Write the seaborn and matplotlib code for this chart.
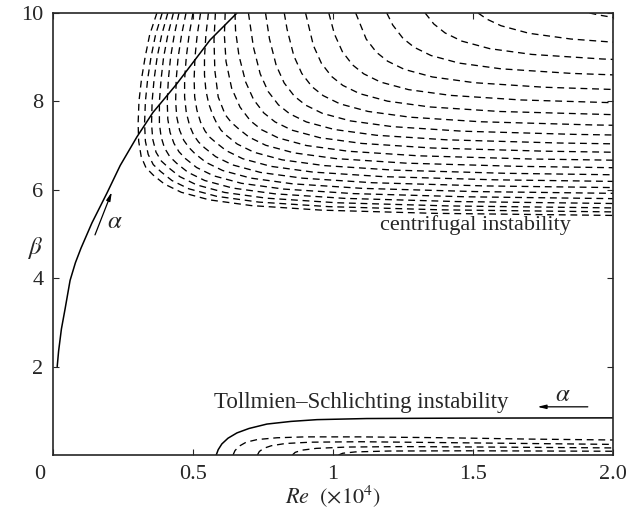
import matplotlib
matplotlib.use("Agg")
import matplotlib.pyplot as plt
import matplotlib.transforms as mtransforms
import seaborn as sns

# centrifugal instability: dashed family, outer curve first
CF_X = [
    [0.371, 0.345, 0.329, 0.316, 0.307, 0.304, 0.306, 0.315, 0.332, 0.358, 0.398, 0.458, 0.558, 0.708, 0.958, 1.358, 2.0],
    [0.39, 0.366, 0.35, 0.338, 0.33, 0.327, 0.33, 0.34, 0.358, 0.385, 0.425, 0.485, 0.585, 0.735, 0.985, 1.385, 2.0],
    [0.41, 0.388, 0.372, 0.361, 0.354, 0.352, 0.356, 0.368, 0.387, 0.413, 0.453, 0.513, 0.613, 0.763, 1.013, 1.413, 2.0],
    [0.43, 0.41, 0.395, 0.386, 0.38, 0.38, 0.386, 0.398, 0.417, 0.442, 0.482, 0.542, 0.642, 0.792, 1.042, 1.442, 2.0],
    [0.45, 0.433, 0.42, 0.412, 0.408, 0.41, 0.418, 0.432, 0.45, 0.473, 0.513, 0.573, 0.673, 0.823, 1.073, 1.473, 2.0],
    [0.475, 0.459, 0.447, 0.44, 0.438, 0.442, 0.452, 0.467, 0.485, 0.506, 0.546, 0.606, 0.706, 0.856, 1.106, 1.506, 2.0],
    [0.50, 0.486, 0.476, 0.47, 0.47, 0.476, 0.488, 0.503, 0.52, 0.541, 0.581, 0.641, 0.741, 0.891, 1.141, 1.541, 2.0],
    [0.527, 0.515, 0.507, 0.504, 0.506, 0.514, 0.527, 0.543, 0.558, 0.578, 0.618, 0.678, 0.778, 0.928, 1.178, 1.578, 2.0],
    [0.555, 0.546, 0.541, 0.541, 0.546, 0.556, 0.57, 0.585, 0.6, 0.618, 0.658, 0.718, 0.818, 0.968, 1.218, 1.618, 2.0],
    [0.58, 0.575, 0.578, 0.59, 0.615, 0.636, 0.66, 0.70, 0.76, 0.86, 1.01, 1.26, 1.66, 2.0],
    [0.615, 0.612, 0.618, 0.638, 0.668, 0.705, 0.745, 0.805, 0.905, 1.055, 1.305, 1.705, 2.0],
    [0.65, 0.652, 0.664, 0.688, 0.7165, 0.753, 0.793, 0.853, 0.953, 1.103, 1.353, 1.753, 2.0],
    [0.698, 0.716, 0.74, 0.7685, 0.805, 0.845, 0.905, 1.005, 1.155, 1.405, 1.805, 2.0],
    [0.759, 0.773, 0.797, 0.8255, 0.862, 0.902, 0.962, 1.062, 1.212, 1.462, 1.862, 2.0],
    [0.826, 0.836, 0.86, 0.8885, 0.925, 0.965, 1.025, 1.125, 1.275, 1.525, 1.925, 2.0],
    [0.902, 0.93, 0.9585, 0.995, 1.035, 1.095, 1.195, 1.345, 1.595, 2.0],
    [0.985, 1.005, 1.0335, 1.07, 1.11, 1.17, 1.27, 1.42, 1.67, 2.0],
    [1.081, 1.1185, 1.155, 1.195, 1.255, 1.355, 1.505, 1.755, 2.0],
    [1.192, 1.2135, 1.25, 1.29, 1.35, 1.45, 1.60, 1.85, 2.0],
    [1.329, 1.36, 1.40, 1.46, 1.56, 1.71, 1.96, 2.0],
    [1.518, 1.55, 1.6, 1.7, 1.85, 2.0],
    [1.916, 1.95, 2.0],
]
CF_BETA = [
    [10, 9.5, 9.0, 8.5, 8.0, 7.5, 7.1, 6.75, 6.5, 6.332, 6.130, 5.944, 5.773, 5.643, 5.540, 5.468, 5.42],
    [10, 9.5, 9.0, 8.5, 8.0, 7.5, 7.1, 6.8, 6.57, 6.411, 6.209, 6.023, 5.852, 5.722, 5.619, 5.547, 5.50],
    [10, 9.5, 9.0, 8.5, 8.0, 7.5, 7.15, 6.85, 6.65, 6.499, 6.297, 6.111, 5.94, 5.81, 5.707, 5.635, 5.59],
    [10, 9.5, 9.0, 8.5, 8.0, 7.5, 7.2, 6.95, 6.75, 6.598, 6.396, 6.21, 6.039, 5.909, 5.806, 5.734, 5.69],
    [10, 9.5, 9.0, 8.5, 8.0, 7.6, 7.3, 7.05, 6.86, 6.706, 6.504, 6.318, 6.147, 6.017, 5.914, 5.842, 5.80],
    [10, 9.5, 9.0, 8.5, 8.0, 7.65, 7.35, 7.12, 6.96, 6.824, 6.622, 6.436, 6.265, 6.135, 6.032, 5.96, 5.92],
    [10, 9.5, 9.0, 8.5, 8.1, 7.75, 7.45, 7.23, 7.08, 6.952, 6.75, 6.564, 6.393, 6.263, 6.16, 6.088, 6.05],
    [10, 9.5, 9.0, 8.5, 8.1, 7.8, 7.53, 7.33, 7.2, 7.09, 6.888, 6.702, 6.531, 6.401, 6.298, 6.226, 6.19],
    [10, 9.5, 9.0, 8.6, 8.25, 7.95, 7.7, 7.5, 7.35, 7.237, 7.035, 6.849, 6.678, 6.548, 6.445, 6.373, 6.34],
    [10, 9.4, 8.7, 8.1, 7.7, 7.53, 7.395, 7.193, 7.007, 6.836, 6.706, 6.603, 6.531, 6.50],
    [10, 9.5, 8.9, 8.3, 7.87, 7.561, 7.359, 7.173, 7.002, 6.872, 6.769, 6.697, 6.67],
    [10, 9.6, 9.04, 8.44, 8.04, 7.738, 7.536, 7.35, 7.179, 7.049, 6.946, 6.874, 6.85],
    [10, 9.223, 8.623, 8.223, 7.923, 7.721, 7.535, 7.364, 7.234, 7.131, 7.059, 7.04],
    [10, 9.418, 8.818, 8.418, 8.118, 7.916, 7.73, 7.559, 7.429, 7.326, 7.254, 7.24],
    [10, 9.632, 9.032, 8.632, 8.332, 8.13, 7.944, 7.773, 7.643, 7.54, 7.468, 7.46],
    [10, 9.264, 8.864, 8.564, 8.362, 8.176, 8.005, 7.875, 7.772, 7.70],
    [10, 9.525, 9.125, 8.825, 8.623, 8.437, 8.266, 8.136, 8.033, 7.97],
    [10, 9.412, 9.112, 8.91, 8.724, 8.553, 8.423, 8.32, 8.27],
    [10, 9.726, 9.426, 9.224, 9.038, 8.867, 8.737, 8.634, 8.60],
    [10, 9.752, 9.55, 9.364, 9.193, 9.063, 8.96, 8.95],
    [10, 9.86, 9.712, 9.541, 9.411, 9.34],
    [10, 9.954, 9.90],
]

# solid curve bounding the centrifugal region
CF_SOLID_X = [0.015, 0.02, 0.03, 0.043, 0.061, 0.08, 0.1, 0.139, 0.193, 0.24, 0.3, 0.357, 0.44, 0.5, 0.561, 0.657]
CF_SOLID_BETA = [2.0, 2.35, 2.85, 3.3, 3.95, 4.35, 4.68, 5.25, 5.93, 6.55, 7.2, 7.75, 8.38, 8.88, 9.39, 10.0]

# Tollmien-Schlichting region
TS_SOLID_X = [0.583, 0.59, 0.603, 0.625, 0.657, 0.7, 0.764, 0.85, 0.943, 1.12, 1.5, 2.0]
TS_SOLID_BETA = [0.0, 0.12, 0.25, 0.38, 0.5, 0.6, 0.7, 0.76, 0.8, 0.825, 0.835, 0.84]

TS_X = [
    [0.643, 0.65, 0.665, 0.69, 0.73, 0.8, 0.9, 1.1, 1.4, 1.7, 2.0],
    [0.73, 0.737, 0.752, 0.78, 0.83, 0.92, 1.1, 1.4, 1.7, 2.0],
    [0.855, 0.865, 0.89, 0.94, 1.05, 1.25, 1.55, 2.0],
    [1.02, 1.035, 1.08, 1.2, 1.5, 2.0],
]
TS_BETA = [
    [0.0, 0.1, 0.2, 0.29, 0.35, 0.39, 0.41, 0.41, 0.39, 0.36, 0.34],
    [0.0, 0.08, 0.15, 0.21, 0.26, 0.29, 0.3, 0.28, 0.26, 0.24],
    [0.0, 0.06, 0.11, 0.15, 0.18, 0.19, 0.18, 0.16],
    [0.0, 0.04, 0.07, 0.09, 0.095, 0.085],
]

X_TICKS = [0, 0.5, 1, 1.5, 2.0]
X_TICK_LABELS = ["0", "0.5", "1", "1.5", "2.0"]
Y_TICKS = [2, 4, 6, 8, 10]
Y_TICK_LABELS = ["2", "4", "6", "8", "10"]

sns.set_style("ticks")
plt.rcParams["font.family"] = ["Liberation Serif", "DejaVu Serif"]
plt.rcParams["mathtext.fontset"] = "stix"

fig = plt.figure(figsize=(6.3, 5.17), dpi=100)
ax = fig.add_axes([53 / 630, 62 / 517, 560 / 630, 442 / 517])

dash = (0, (5.2, 3.6))
for xs, bs in zip(CF_X, CF_BETA):
    sns.lineplot(x=xs, y=bs, sort=False, estimator=None, color="k", lw=0.95, linestyle=dash, ax=ax)
for xs, bs in zip(TS_X, TS_BETA):
    sns.lineplot(x=xs, y=bs, sort=False, estimator=None, color="k", lw=0.95, linestyle=dash, ax=ax)
sns.lineplot(x=CF_SOLID_X, y=CF_SOLID_BETA, sort=False, estimator=None, color="k", lw=1.1, ax=ax)
sns.lineplot(x=TS_SOLID_X, y=TS_SOLID_BETA, sort=False, estimator=None, color="k", lw=1.1, ax=ax)

ax.set_xlim(0, 2.0)
ax.set_ylim(0, 10)
ax.set_xticks(X_TICKS)
ax.set_xticklabels(X_TICK_LABELS)
ax.set_yticks(Y_TICKS)
ax.set_yticklabels(Y_TICK_LABELS)
ax.tick_params(direction="in", top=True, right=True, length=4, width=0.8,
               labelsize=16, pad=7)
for s in ax.spines.values():
    s.set_linewidth(1.2)

# "0" sits a little left of the corner
lab0 = ax.get_xticklabels()[0]
lab0.set_transform(lab0.get_transform() + mtransforms.ScaledTranslation(-0.13, 0, fig.dpi_scale_trans))

ax.set_xlabel(r"$Re\ \ (\times 10^4)$", fontsize=16)
ax.xaxis.set_label_coords(0.5, -0.065)
ax.set_ylabel(r"$\beta$", fontsize=18, rotation=0)
ax.yaxis.set_label_coords(-0.032, 0.44)

ax.text(1.51, 5.2, "centrifugal instability", fontsize=16, ha="center", va="center")
ax.text(1.1, 1.18, "Tollmien\u2013Schlichting instability", fontsize=16.5, ha="center", va="center")

arrow = dict(arrowstyle="-|>,head_length=0.5,head_width=0.12", color="k", lw=0.9, shrinkA=0, shrinkB=0)
ax.annotate("", xy=(0.21, 5.95), xytext=(0.15, 4.98), arrowprops=arrow)
ax.text(0.221, 5.27, r"$\alpha$", fontsize=18, ha="center", va="center")
ax.annotate("", xy=(1.73, 1.09), xytext=(1.91, 1.09), arrowprops=arrow)
ax.text(1.82, 1.36, r"$\alpha$", fontsize=18, ha="center", va="center")

fig.savefig("out.png", dpi=100)
